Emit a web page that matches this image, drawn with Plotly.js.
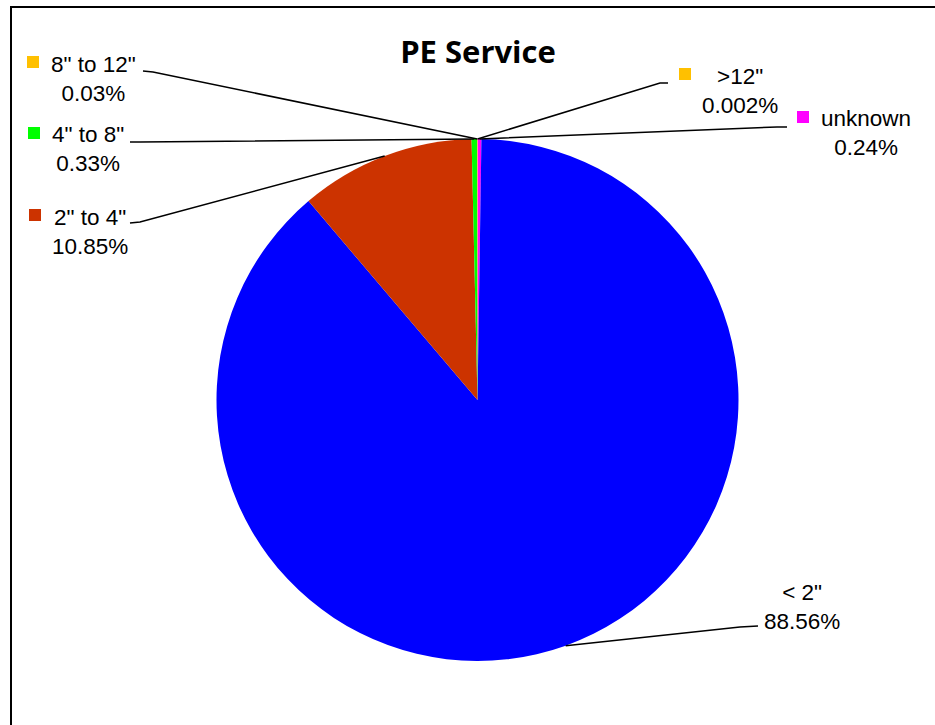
<!DOCTYPE html>
<html>
<head>
<meta charset="utf-8">
<script src="https://cdn.plot.ly/plotly-3.0.1.min.js"></script>
<style>html,body{margin:0;padding:0;background:#fff;}#chart{width:935px;height:725px;}</style>
</head>
<body>
<div id="chart"></div>
<script>
// Data (drawn clockwise from 12 o'clock)
const labels = ['unknown', '< 2"', '2" to 4"', '4" to 8"', '8" to 12"', '>12"'];
const values = [0.24, 88.56, 10.85, 0.33, 0.03, 0.002];
const percentText = ['0.24%', '88.56%', '10.85%', '0.33%', '0.03%', '0.002%'];
const colors = ['#FF00FF', '#0000FF', '#CC3300', '#00FF00', '#FFC000', '#FFC000'];
const showKey = [true, false, true, true, true, true];

const W = 935, H = 725;
const CX = 477.5, CY = 400, R = 261;
const px = x => x / W;
const py = y => 1 - y / H;

// Label placement (layout, pixels): text centre x, first baseline, key square x, line elbow points
const labelPos = [
  {cx: 866, b1: 126, kx: 797, line: [[787, 127], [777, 127]]},
  {cx: 802, b1: 599, kx: null, line: [[758, 626], [740, 627]]},
  {cx: 90,  b1: 224, kx: 29,  line: [[130, 223], [140, 222]]},
  {cx: 88,  b1: 142, kx: 28,  line: [[130, 142], [140, 142]]},
  {cx: 93,  b1: 71,  kx: 27,  line: [[143, 71], [153, 72]]},
  {cx: 740, b1: 83,  kx: 679, line: [[668, 83], [660, 83]]}
];

const total = values.reduce((a, b) => a + b, 0);
let cum = 0;
const shapes = [];
const annotations = [];
values.forEach((v, i) => {
  const mid = (cum + v / 2) / total * 2 * Math.PI;
  cum += v;
  const ex = CX + R * Math.sin(mid);
  const ey = CY - R * Math.cos(mid);
  const p = labelPos[i];
  const pts = p.line.concat([[ex, ey]]);
  const path = pts.map((q, k) => (k ? 'L' : 'M') + px(q[0]) + ',' + py(q[1])).join(' ');
  shapes.push({type: 'path', xref: 'paper', yref: 'paper', path: path,
    line: {color: '#000', width: 1.5}});
  if (showKey[i]) {
    const ky = p.b1 - 15;
    shapes.push({type: 'rect', xref: 'paper', yref: 'paper',
      x0: px(p.kx), x1: px(p.kx + 12), y0: py(ky), y1: py(ky + 12),
      fillcolor: colors[i], line: {width: 0}});
  }
  annotations.push({xref: 'paper', yref: 'paper', x: px(p.cx), y: py(p.b1 + 7.5),
    xanchor: 'center', yanchor: 'middle', align: 'center', showarrow: false,
    text: labels[i] + '<br>' + percentText[i],
    font: {family: 'Liberation Sans, Arial, sans-serif', size: 22.5, color: '#000'}});
});

// chart border
shapes.push({type: 'rect', xref: 'paper', yref: 'paper', layer: 'above',
  x0: px(11), x1: 1.02, y0: -0.02, y1: py(7), line: {color: '#000', width: 2}});

const trace = {
  type: 'pie', labels: labels, values: values, sort: false,
  direction: 'clockwise', rotation: 0,
  marker: {colors: colors, line: {width: 0}},
  textinfo: 'none', hoverinfo: 'none',
  domain: {x: [px(CX - R), px(CX + R)], y: [py(CY + R), py(CY - R)]}
};

const layout = {
  width: W, height: H,
  margin: {l: 0, r: 0, t: 0, b: 0},
  paper_bgcolor: '#fff', plot_bgcolor: '#fff',
  showlegend: false,
  title: {text: '<b>PE Service</b>', x: px(478), xanchor: 'center',
    y: py(52), yanchor: 'middle',
    font: {family: 'Open Sans, sans-serif', size: 31, color: '#000'}},
  shapes: shapes,
  annotations: annotations
};

Plotly.newPlot('chart', [trace], layout, {staticPlot: true, displayModeBar: false});
</script>
</body>
</html>
